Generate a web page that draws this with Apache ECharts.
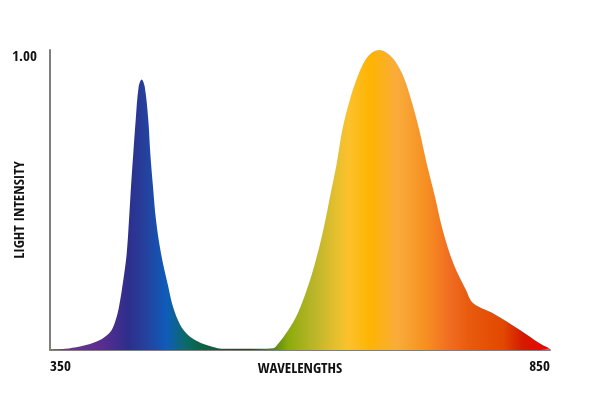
<!DOCTYPE html>
<html>
<head>
<meta charset="utf-8">
<style>
  html, body { margin: 0; padding: 0; background: #fff; }
  #chart-container { width: 600px; height: 400px; }
</style>
<script src="https://cdn.jsdelivr.net/npm/echarts@6/dist/echarts.min.js"></script>
</head>
<body>
<div id="chart-container"></div>
<script>
// spectrum: wavelength (nm) and relative intensity
var wavelengths = [
  350, 365, 380, 390, 396.7, 405, 411.7, 415.7, 419, 423.3, 426.7, 429, 431, 433.3, 435.7,
  438.7, 441.7, 444.7, 448.3, 450.3, 453, 456, 461, 468.3, 473, 480,
  488, 497, 505, 513, 522, 540, 560,
  573, 578.3, 588.3, 597.7, 606.7, 615, 623.3, 630, 636.7, 642.3, 649.5, 657.3, 665, 672,
  679, 687, 695, 704, 711.5, 719.3, 726.7, 735, 742.7, 753.3, 766, 773.3, 793.3, 820, 840, 850
];
var intensity = [
  0, 0.004, 0.012, 0.02, 0.028, 0.044, 0.067, 0.1, 0.144, 0.233, 0.322, 0.433, 0.544, 0.656, 0.767,
  0.878, 0.902, 0.878, 0.767, 0.656, 0.544, 0.433, 0.322, 0.211, 0.144, 0.085,
  0.05, 0.03, 0.018, 0.01, 0.004, 0.004, 0.004,
  0.006, 0.022, 0.067, 0.122, 0.2, 0.289, 0.4, 0.511, 0.622, 0.733, 0.83, 0.909, 0.965, 0.992,
  1.0, 0.99, 0.963, 0.907, 0.83, 0.733, 0.622, 0.511, 0.4, 0.289, 0.2, 0.156, 0.122, 0.067, 0.022, 0.005
];
var xTicks = [350, 850];
var yTicks = [1];

var spectrumStops = [
  [0.00, '#6d3a9c'], [0.10, '#5b2d91'], [0.156, '#2e2e8c'], [0.19, '#25409c'],
  [0.233, '#0f5cbb'], [0.27, '#0b6a6a'], [0.296, '#0a6548'], [0.40, '#1d4d2a'],
  [0.45, '#5a8a14'], [0.476, '#8bab0c'], [0.526, '#b9b52a'], [0.574, '#e6c02f'],
  [0.596, '#fcc12d'], [0.64, '#feb402'], [0.694, '#f9ac3b'], [0.754, '#f68e21'],
  [0.80, '#f06c22'], [0.84, '#e85a0c'], [0.906, '#e24800'], [0.946, '#d51a00'],
  [1.00, '#f00000']
];

var dom = document.getElementById('chart-container');
var myChart = echarts.init(dom, null, { renderer: 'canvas' });

var font = '"Open Sans Condensed", "Roboto Condensed", sans-serif';
var textStyle = { fontFamily: font, fontWeight: 'bold', fontSize: 15, color: '#111' };

var option = {
  animation: false,
  grid: { left: 50, right: 50, top: 50, bottom: 50, outerBoundsMode: 'none' },
  xAxis: {
    type: 'value',
    min: 350,
    max: 850,
    name: 'WAVELENGTHS',
    nameLocation: 'middle',
    nameGap: 12,
    nameMoveOverlap: false,
    nameTextStyle: textStyle,
    axisLine: { lineStyle: { color: '#7f7f7f', width: 2 } },
    axisTick: { show: false },
    splitLine: { show: false },
    axisLabel: Object.assign({
      customValues: xTicks,
      margin: 10,
      alignMinLabel: 'left',
      alignMaxLabel: 'right'
    }, textStyle)
  },
  yAxis: {
    type: 'value',
    min: 0,
    max: 1,
    name: 'LIGHT INTENSITY',
    nameLocation: 'middle',
    nameGap: 22,
    nameRotate: 90,
    nameMoveOverlap: false,
    nameTextStyle: Object.assign({ padding: [0, 20, 0, 0] }, textStyle),
    axisLine: { show: true, lineStyle: { color: '#7f7f7f', width: 2 } },
    axisTick: { show: false },
    splitLine: { show: false },
    axisLabel: Object.assign({
      customValues: yTicks,
      margin: 13,
      verticalAlign: 'top',
      formatter: function (v) { return v.toFixed(2); }
    }, textStyle)
  },
  series: [
    {
      type: 'line',
      data: wavelengths.map(function (w, i) { return [w, intensity[i]]; }),
      smooth: 0.35,
      showSymbol: false,
      lineStyle: { width: 0 },
      areaStyle: {
        opacity: 1,
        color: new echarts.graphic.LinearGradient(0, 0, 1, 0,
          spectrumStops.map(function (s) { return { offset: s[0], color: s[1] }; }))
      }
    }
  ]
};

myChart.setOption(option);
window.addEventListener('resize', myChart.resize);
</script>
</body>
</html>
